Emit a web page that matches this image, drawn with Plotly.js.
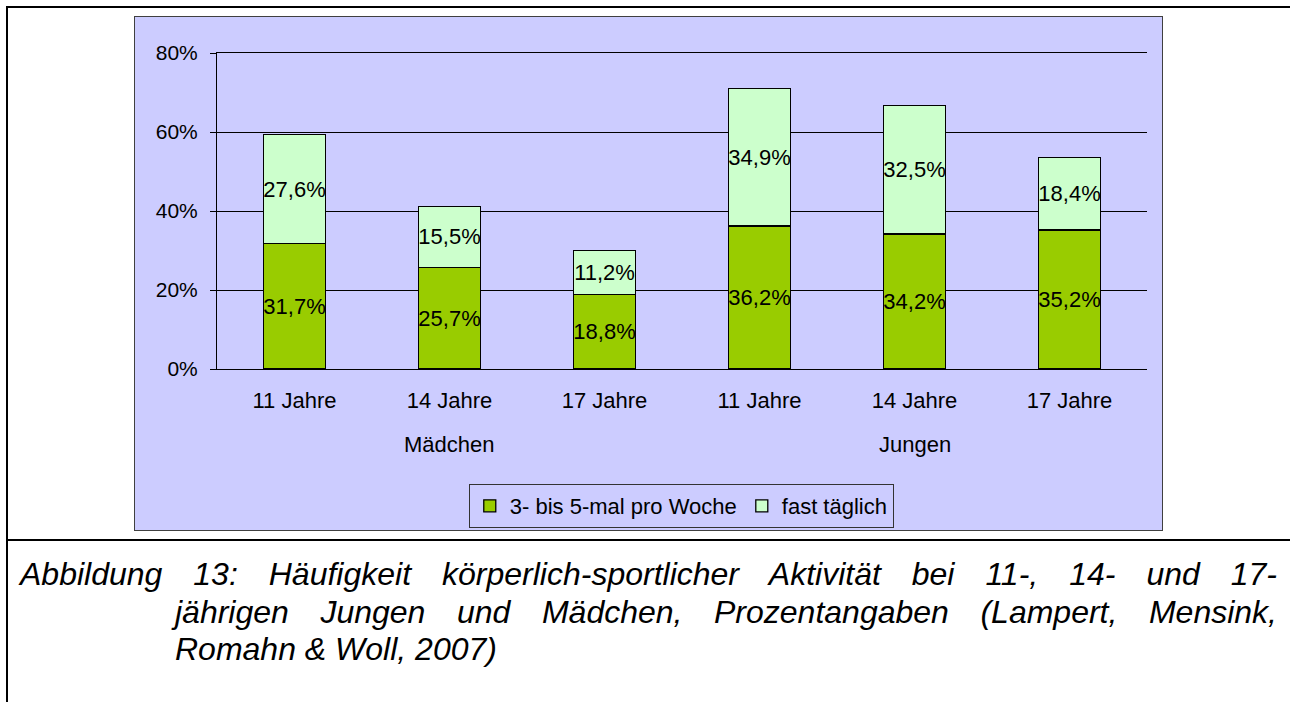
<!DOCTYPE html>
<html>
<head>
<meta charset="utf-8">
<script src="https://cdn.plot.ly/plotly-3.0.1.min.js"></script>
<style>
  html, body { margin: 0; padding: 0; background: #ffffff; width: 1290px; height: 702px; overflow: hidden; }
  #frame { position: absolute; left: 6px; top: 6px; width: 1400px; height: 800px; border-left: 2px solid #000; border-top: 2px solid #000; }
  #sep { position: absolute; left: 6px; top: 539px; width: 1400px; height: 2px; background: #000; }
  #chart { position: absolute; left: 134px; top: 16px; width: 1027px; height: 513px; border: 1px solid #404040; }
  #caption { position: absolute; left: 20px; top: 556px; width: 1257px; font-family: "Liberation Sans", Arial, sans-serif; font-style: italic; font-size: 32px; line-height: 37.5px; color: #000; }
  #caption .l { text-align: justify; text-align-last: justify; }
  #caption .ind { padding-left: 155px; }
  #caption .last { text-align: left; text-align-last: left; }
</style>
</head>
<body>
<div id="frame"></div>
<div id="sep"></div>
<div id="chart"></div>
<div id="caption">
  <div class="l">Abbildung 13: Häufigkeit körperlich-sportlicher Aktivität bei 11-, 14- und 17-</div>
  <div class="l ind">jährigen Jungen und Mädchen, Prozentangaben (Lampert, Mensink,</div>
  <div class="ind last">Romahn &amp; Woll, 2007)</div>
</div>
<script>
const groups = ["Mädchen", "Mädchen", "Mädchen", "Jungen", "Jungen", "Jungen"];
const ages = ["11 Jahre", "14 Jahre", "17 Jahre", "11 Jahre", "14 Jahre", "17 Jahre"];
const seriesNames = ["3- bis 5-mal pro Woche", "fast täglich"];
const mehrmalsProWoche = [31.7, 25.7, 18.8, 36.2, 34.2, 35.2];
const fastTaeglich = [27.6, 15.5, 11.2, 34.9, 32.5, 18.4];
const yTicks = [0, 20, 40, 60, 80];
const yTickLabels = ["0%", "20%", "40%", "60%", "80%"];

const FONT = "Liberation Sans, Arial, sans-serif";
const FS = 22;
const fmt = v => v.toFixed(1).replace('.', ',') + '%';

// unique category keys (group + age), shown with the age label only
const keys = ages.map((a, i) => groups[i] + ' ' + a);

function barTrace(name, values, color) {
  return {
    type: 'bar',
    name: name,
    x: keys,
    y: values,
    text: values.map(fmt),
    textposition: 'inside',
    insidetextanchor: 'middle',
    constraintext: 'none',
    textangle: 0,
    textfont: { family: FONT, size: FS, color: '#000' },
    marker: { color: color, line: { color: '#000', width: 1.3 } },
    width: 0.4,
    hoverinfo: 'skip'
  };
}

const data = [
  barTrace(seriesNames[0], mehrmalsProWoche, '#99cc00'),
  barTrace(seriesNames[1], fastTaeglich, '#ccffcc')
];

// group labels centred under the middle category of each group
const uniqueGroups = [...new Set(groups)];
const annotations = uniqueGroups.map(g => {
  const idx = groups.map((v, i) => v === g ? i : -1).filter(i => i >= 0);
  return {
    x: keys[idx[Math.floor(idx.length / 2)]],
    xref: 'x',
    y: -0.24,
    yref: 'paper',
    yanchor: 'middle',
    text: g,
    showarrow: false,
    font: { family: FONT, size: FS, color: '#000' }
  };
});

const layout = {
  width: 1027,
  height: 513,
  margin: { l: 82, r: 15, t: 36, b: 161 },
  paper_bgcolor: '#ccccff',
  plot_bgcolor: '#ccccff',
  barmode: 'stack',
  font: { family: FONT, size: FS, color: '#000' },
  showlegend: true,
  legend: {
    orientation: 'h',
    xref: 'container',
    yref: 'container',
    x: 0.325, xanchor: 'left',
    y: 0.0897, yanchor: 'top',
    bgcolor: '#ccccff',
    bordercolor: '#333',
    borderwidth: 1,
    font: { family: FONT, size: FS, color: '#000' },
    itemwidth: 30,
    traceorder: 'normal'
  },
  annotations: annotations,
  xaxis: {
    type: 'category',
    tickmode: 'array',
    tickvals: keys,
    ticktext: ages,
    showline: true,
    mirror: true,
    linecolor: '#000',
    linewidth: 1,
    showgrid: false,
    ticks: '',
    ticklabelstandoff: 12,
    automargin: false,
    tickfont: { family: FONT, size: FS, color: '#000' }
  },
  yaxis: {
    range: [0, 80],
    tickmode: 'array',
    tickvals: yTicks,
    ticktext: yTickLabels,
    showline: true,
    linecolor: '#000',
    linewidth: 1,
    showgrid: true,
    gridcolor: '#000',
    gridwidth: 1,
    ticks: 'outside',
    ticklen: 6,
    tickcolor: '#000',
    ticklabelstandoff: 8,
    zeroline: false,
    automargin: false,
    tickfont: { family: FONT, size: FS - 1, color: '#000' }
  }
};

Plotly.newPlot('chart', data, layout, { staticPlot: true, displayModeBar: false });
</script>
</body>
</html>
